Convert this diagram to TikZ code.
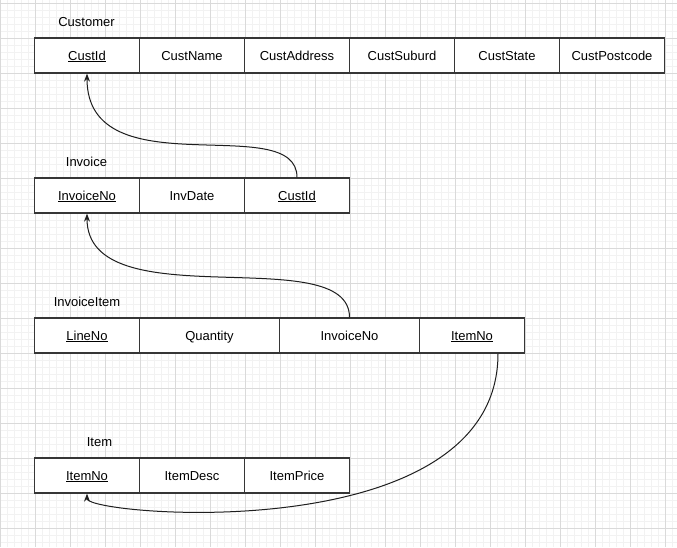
\documentclass[tikz,border=0pt]{standalone}
\usepackage{fontspec}
\setmainfont{Liberation Sans}
\usetikzlibrary{arrows.meta}
\definecolor{minorgrid}{RGB}{242,242,242}
\definecolor{majorgrid}{RGB}{218,218,218}
\definecolor{bordercol}{RGB}{54,54,54}
\definecolor{linkcol}{RGB}{30,30,30}
\tikzset{
  cell/.style={draw=bordercol, line width=1.3pt, fill=white, minimum height=35pt,
    minimum width=105pt, inner sep=0pt, text height=12pt, text depth=3pt,
    text=black, font=\fontsize{13}{15}\selectfont},
  widecell/.style={cell, minimum width=140pt},
  title/.style={inner sep=0pt, anchor=base, text=black, font=\fontsize{13}{15}\selectfont},
  link/.style={draw=linkcol, line width=1pt, -{Stealth[length=8pt,width=6pt]}},
  minorline/.style={draw=minorgrid, line width=1pt},
  majorline/.style={draw=majorgrid, line width=1pt}
}
\begin{document}
\begin{tikzpicture}[x=1pt,y=-1pt]
\useasboundingbox (0,0) rectangle (677,547);
\fill[white] (0,0) rectangle (677,547);
% grid
\foreach \x in {0,7,...,676} \draw[minorline] (\x,0) -- (\x,547);
\foreach \y in {3,10,...,546} \draw[minorline] (0,\y) -- (677,\y);
\foreach \x in {0,35,...,676} \draw[majorline] (\x,0) -- (\x,547);
\foreach \y in {3,38,...,546} \draw[majorline] (0,\y) -- (677,\y);

% Customer
\node[title] (tc) at (86.5,26.5) {Customer};
\node[cell] (c1) at (87,55.5) {\underline{CustId}};
\node[cell] (c2) at (192,55.5) {CustName};
\node[cell] (c3) at (297,55.5) {CustAddress};
\node[cell] (c4) at (402,55.5) {CustSuburd};
\node[cell] (c5) at (507,55.5) {CustState};
\node[cell] (c6) at (612,55.5) {CustPostcode};

% Invoice
\node[title] (ti) at (86.5,166.5) {Invoice};
\node[cell] (i1) at (87,195.5) {\underline{InvoiceNo}};
\node[cell] (i2) at (192,195.5) {InvDate};
\node[cell] (i3) at (297,195.5) {\underline{CustId}};

% InvoiceItem
\node[title] (tii) at (87,306.5) {InvoiceItem};
\node[cell] (ii1) at (87,335.5) {\underline{LineNo}};
\node[widecell] (ii2) at (209.5,335.5) {Quantity};
\node[widecell] (ii3) at (349.5,335.5) {InvoiceNo};
\node[cell] (ii4) at (472,335.5) {\underline{ItemNo}};

% Item
\node[title] (tt) at (99.5,446.5) {Item};
\node[cell] (t1) at (87,475.5) {\underline{ItemNo}};
\node[cell] (t2) at (192,475.5) {ItemDesc};
\node[cell] (t3) at (297,475.5) {ItemPrice};

% connectors
\draw[link] (i3.north) .. controls +(0,-68) and +(0,117) .. (c1.south);
\draw[link] (ii3.north) .. controls +(0,-78) and +(0,107) .. (i1.south);
\draw[link] ([xshift=26pt]ii4.south) .. controls +(0,197) and +(0,22) .. (t1.south);
\end{tikzpicture}
\end{document}
